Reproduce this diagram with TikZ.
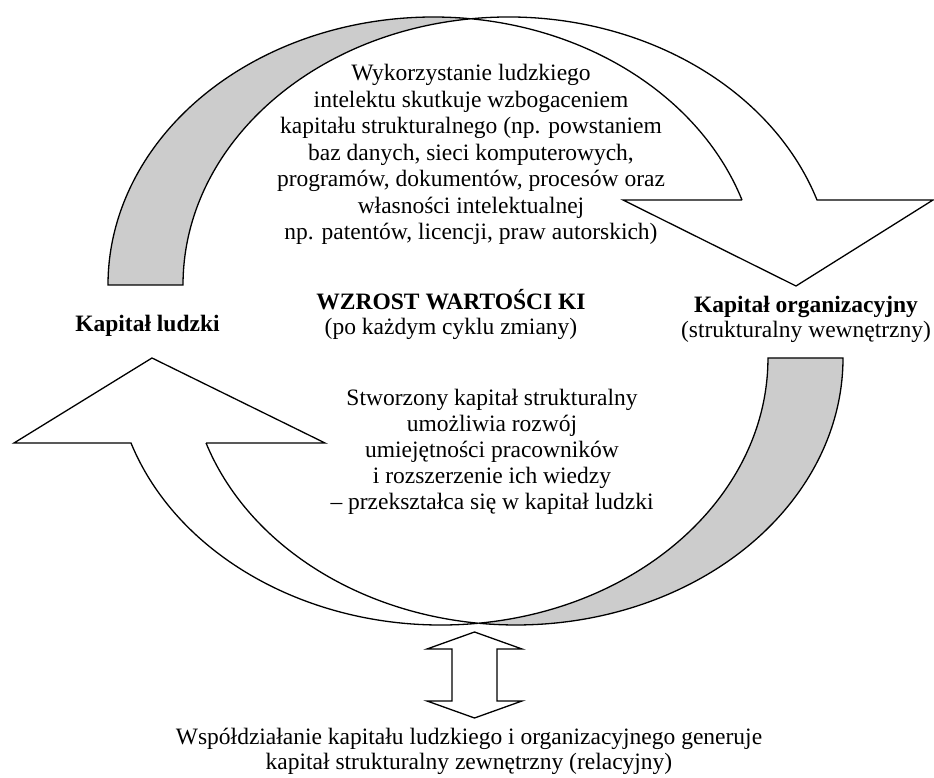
\documentclass[tikz,border=0pt]{standalone}
\usepackage{fontspec}
\setmainfont{Liberation Serif}
\definecolor{bandgray}{RGB}{204,204,204}
\newcommand{\fsz}[1]{\fontsize{23.5}{#1}\selectfont}
\begin{document}
\begin{tikzpicture}[x=1pt,y=1pt,
  band/.style={draw=black, fill=bandgray, line width=1.3pt, line join=miter},
  body/.style={draw=black, fill=white, line width=1.3pt, line join=miter},
  txt/.style={anchor=base, inner sep=0pt, align=center},
  ra/.style={x radius=325.4, y radius=268},
  rc/.style={x radius=327, y radius=267}]
\useasboundingbox (0,0) rectangle (934,778);

% ---- top curved arrow (to the right, pointing down)
\coordinate (tl) at (108,493);
\coordinate (tr) at (742,578);
\draw[band] (tl) arc[start angle=180, end angle=83.38, ra]
   arc[start angle=96.62, end angle=180, ra] -- cycle;
\draw[body] (tr) -- (623,578) -- (796,492) -- (933,578) -- (817,578)
   arc[start angle=18.49, end angle=96.62, ra]
   arc[start angle=83.38, end angle=18.49, ra] -- cycle;

% ---- bottom curved arrow (to the left, pointing up)
\coordinate (br) at (843,420);
\coordinate (bl) at (206,335);
\draw[band] (br) arc[start angle=0, end angle=-96.59, rc]
   arc[start angle=-83.41, end angle=0, rc] -- cycle;
\draw[body] (bl) -- (325,335) -- (152,420) -- (14,335) -- (131,335)
   arc[start angle=-161.44, end angle=-83.41, rc]
   arc[start angle=-96.59, end angle=-161.44, rc] -- cycle;

% ---- vertical double arrow
\coordinate (dtop) at (474.5,146);
\draw[body] (dtop) -- (522,129) -- (497,129) -- (497,77) -- (522,77)
   -- (474.5,60) -- (427,77) -- (452,77) -- (452,129) -- (427,129) -- cycle;

% ---- texts
\node[txt] (top) at (471,697) {\fsz{26.5}\begin{tabular}[t]{@{}c@{}}
Wykorzystanie ludzkiego\\
intelektu skutkuje wzbogaceniem\\
kapitału strukturalnego (np. powstaniem\\
baz danych, sieci komputerowych,\\
programów, dokumentów, procesów oraz\\
własności intelektualnej\\
np. patentów, licencji, praw autorskich)\end{tabular}};

\node[txt] (wzrost) at (451,468) {\fsz{25}\begin{tabular}[t]{@{}c@{}}
\textbf{WZROST WARTOŚCI KI}\\
(po każdym cyklu zmiany)\end{tabular}};

\node[txt] (ludzki) at (147.5,446) {\fsz{25}\textbf{Kapitał ludzki}};

\node[txt] (org) at (806,465) {\fsz{25}\begin{tabular}[t]{@{}c@{}}
\textbf{Kapitał organizacyjny}\\
(strukturalny wewnętrzny)\end{tabular}};

\node[txt] (low) at (492,372) {\fsz{26}\begin{tabular}[t]{@{}c@{}}
Stworzony kapitał strukturalny\\
umożliwia rozwój\\
umiejętności pracowników\\
i rozszerzenie ich wiedzy\\
– przekształca się w kapitał ludzki\end{tabular}};

\node[txt] (bottom) at (469,33) {\fsz{25}\begin{tabular}[t]{@{}c@{}}
Współdziałanie kapitału ludzkiego i organizacyjnego generuje\\
kapitał strukturalny zewnętrzny (relacyjny)\end{tabular}};
\end{tikzpicture}
\end{document}
